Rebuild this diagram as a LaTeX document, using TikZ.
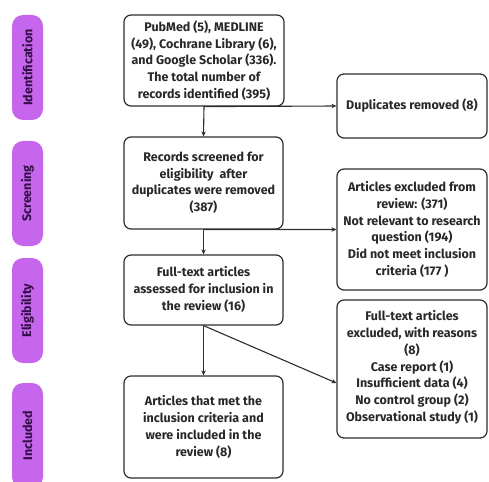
\documentclass[tikz,border=0pt]{standalone}
\usepackage{fontspec}
\setmainfont{Fira Sans}
\usetikzlibrary{arrows.meta}

\definecolor{phasecolor}{RGB}{198,102,236}
\definecolor{phasetext}{RGB}{50,14,70}
\definecolor{boxline}{RGB}{45,45,45}
\definecolor{boxtext}{RGB}{40,40,40}

\tikzset{
  flowbox/.style={draw=boxline, line width=1.2pt, rounded corners=7pt, align=center,
    inner sep=0pt, text=boxtext, font=\bfseries\fontsize{12.5}{16.8}\selectfont},
  phase/.style={fill=phasecolor, rounded corners=11pt, minimum width=31pt, minimum height=105pt},
  phasename/.style={rotate=90, text=phasetext, font=\bfseries\fontsize{12.5}{14}\selectfont},
  flow/.style={draw=boxline, line width=1.1pt, -{Stealth[length=5pt,width=4.5pt]}}
}

\begin{document}
\begin{tikzpicture}[x=1pt,y=-1pt]
\useasboundingbox (0,0) rectangle (489,481);

% phase labels
\node[phase] (identification) at (27.5,67.5) {};
\node[phasename] at (identification.center) {Identification};
\node[phase] (screening) at (27.5,193.5) {};
\node[phasename] at (screening.center) {Screening};
\node[phase] (eligibility) at (27.5,310.5) {};
\node[phasename] at (eligibility.center) {Eligibility};
\node[phase] (included) at (27.5,435.5) {};
\node[phasename] at (included.center) {Included};

% main column
\node[flowbox, minimum width=160pt, minimum height=91pt] (records) at (204,60.5)
  {PubMed (5), MEDLINE\\(49), Cochrane Library (6),\\and Google Scholar (336).\\The total number of\\records identified (395)};
\node[flowbox, minimum width=159pt, minimum height=92pt] (screened) at (203.5,183)
  {\\[-8pt]Records screened for\\eligibility\ \ after\\duplicates were removed\\(387)};
\node[flowbox, minimum width=159pt, minimum height=70pt] (fulltext) at (203.5,290)
  {\\[-8pt]Full-text articles\\assessed for inclusion in\\the review (16)};
\node[flowbox, minimum width=159pt, minimum height=102pt] (included box) at (203.5,427)
  {Articles that met the\\inclusion criteria and\\were included in the\\review (8)};

% side column
\node[flowbox, minimum width=150pt, minimum height=64pt] (duplicates) at (412,106)
  {Duplicates removed (8)};
\node[flowbox, minimum width=150pt, minimum height=121pt] (excluded) at (412,229.5)
  {Articles excluded from\\review: (371)\\Not relevant to research\\question (194)\\Did not meet inclusion\\criteria (177 )};
\node[flowbox, minimum width=150pt, minimum height=138pt] (reasons) at (412,369)
  {\\[-10pt]Full-text articles\\excluded, with reasons\\(8)\\Case report (1)\\Insufficient data (4)\\No control group (2)\\Observational study (1)};

% connectors
\draw[flow] (records.south) -- (screened.north);
\draw[flow] (records.south) -- (duplicates.west);
\draw[flow] (screened.south) -- (fulltext.north);
\draw[flow] (screened.south) -- (excluded.west);
\draw[flow] (fulltext.south) -- (included box.north);
\draw[flow] (fulltext.south) -- ([yshift=-14pt]reasons.west);
\end{tikzpicture}
\end{document}
